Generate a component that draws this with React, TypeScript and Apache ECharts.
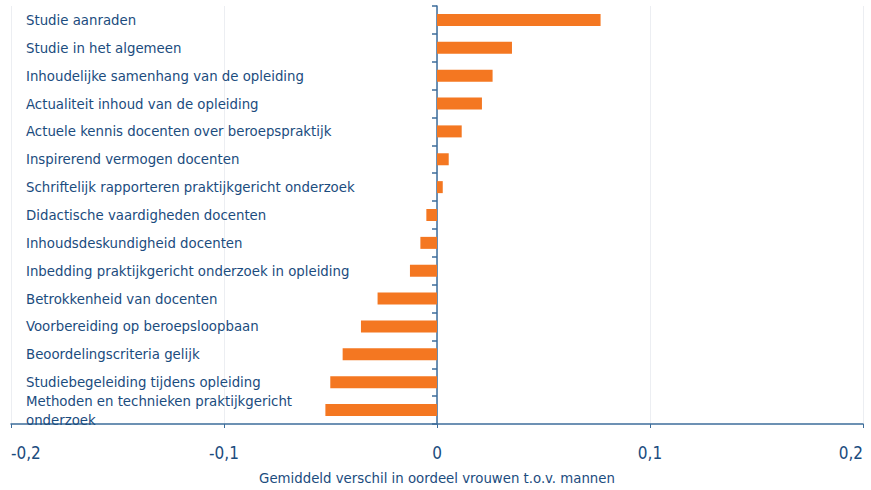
import React, { useEffect, useRef } from "react";
import * as echarts from "echarts";

const categories: string[] = [
  "Studie aanraden",
  "Studie in het algemeen",
  "Inhoudelijke samenhang van de opleiding",
  "Actualiteit inhoud van de opleiding",
  "Actuele kennis docenten over beroepspraktijk",
  "Inspirerend vermogen docenten",
  "Schriftelijk rapporteren praktijkgericht onderzoek",
  "Didactische vaardigheden docenten",
  "Inhoudsdeskundigheid docenten",
  "Inbedding praktijkgericht onderzoek in opleiding",
  "Betrokkenheid van docenten",
  "Voorbereiding op beroepsloopbaan",
  "Beoordelingscriteria gelijk",
  "Studiebegeleiding tijdens opleiding",
  "Methoden en technieken praktijkgericht\nonderzoek",
];

const values: number[] = [
  0.0768, 0.0352, 0.0261, 0.0211, 0.0116, 0.0055, 0.0027, -0.005, -0.0078,
  -0.0127, -0.0279, -0.0357, -0.0443, -0.0501, -0.0524,
];

const xTickMin = -0.2;
const xTickMax = 0.2;
const xTickStep = 0.1;
const xAxisTitle = "Gemiddeld verschil in oordeel vrouwen t.o.v. mannen";

const FONT = "'DejaVu Sans Condensed', 'Liberation Sans Narrow', sans-serif";
const TEXT = "#1b4c7e";
const AXIS = "#3d6d9b";
const BAR = "#f47721";
const FS = 14.8;

export default function App() {
  const ref = useRef<HTMLDivElement>(null);
  useEffect(() => {
    if (!ref.current) return;
    const chart = echarts.init(ref.current, undefined, { renderer: "svg" });
    chart.setOption({
      animation: false,
      backgroundColor: "#ffffff",
      textStyle: { fontFamily: FONT },
      grid: [
        { left: 11, right: 8, top: 6, bottom: 57, containLabel: false },
        { left: 26, right: 400, top: 5.6, bottom: 66.5, containLabel: false },
      ],
      xAxis: [
        {
          type: "value",
          gridIndex: 0,
          min: xTickMin,
          max: xTickMax,
          interval: xTickStep,
          axisLine: { show: true, onZero: false, lineStyle: { color: AXIS, width: 1.5 } },
          axisTick: { show: true, length: 4, lineStyle: { color: AXIS } },
          axisLabel: {
            color: TEXT,
            fontSize: 17,
            fontFamily: FONT,
            margin: 20,
            alignMinLabel: "left",
            alignMaxLabel: "right",
            formatter: (v: number) => {
              const r = Math.round(v * 10) / 10;
              return r === 0 ? "0" : String(r).replace(".", ",");
            },
          },
          splitLine: { show: true, lineStyle: { color: "#eceef2", width: 1 } },
          name: xAxisTitle,
          nameLocation: "middle",
          nameGap: 46,
          nameTextStyle: { color: TEXT, fontSize: FS, fontFamily: FONT },
        },
        {
          type: "value",
          gridIndex: 1,
          show: false,
          min: 0,
          max: 1,
        },
      ],
      yAxis: [
        {
          type: "category",
          gridIndex: 0,
          inverse: true,
          data: categories,
          axisLine: { show: true, onZero: true, lineStyle: { color: AXIS, width: 1.5 } },
          axisTick: { show: true, length: 5, lineStyle: { color: AXIS, width: 1.5 } },
          axisLabel: { show: false },
          splitLine: { show: false },
        },
        {
          type: "category",
          gridIndex: 1,
          inverse: true,
          data: categories,
          axisLine: { show: false },
          axisTick: { show: false },
          splitLine: { show: false },
          axisLabel: {
            show: true,
            inside: true,
            margin: 0,
            align: "left",
            color: TEXT,
            fontSize: FS,
            lineHeight: 19,
            fontFamily: FONT,
            interval: 0,
          },
        },
      ],
      series: [
        {
          type: "bar",
          xAxisIndex: 0,
          yAxisIndex: 0,
          data: values,
          barWidth: 12,
          itemStyle: { color: BAR },
          silent: true,
        },
      ],
    });
    return () => chart.dispose();
  }, []);
  return (
    <div
      ref={ref}
      style={{ position: "fixed", left: 0, top: 0, width: 871, height: 490, background: "#fff" }}
    />
  );
}
